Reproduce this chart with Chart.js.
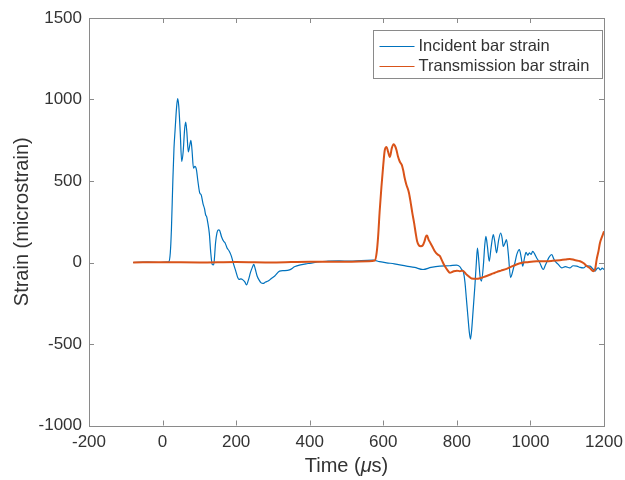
<!DOCTYPE html>
<html lang="en">
<head>
  <meta charset="UTF-8">
  <title>Strain</title>
  <style>
    html, body { margin: 0; padding: 0; background: #fff; }
    #wrap { width: 625px; height: 480px; }
  </style>
</head>
<body>
  <div id="wrap"><canvas id="myChart"></canvas></div>

  <script src="https://cdn.jsdelivr.net/npm/chart.js"></script>
  <script>
    // values (time in microseconds, strain in microstrain)
    const incidentT = [-80, -40, -10, 10, 17, 21, 24, 28, 31, 34, 38, 41, 44, 48, 52, 56, 60, 63, 66, 70,
      74, 77, 80, 84, 88, 92, 96, 101, 105, 110, 114, 117, 120, 123, 127, 131, 135, 138, 140, 144,
      148, 152, 155, 160, 166, 170, 175, 181, 187, 193, 199, 204, 208, 213, 219, 224, 228, 233, 239, 244,
      248, 252, 257, 263, 268, 273, 280, 287, 295, 305, 318, 330, 345, 360, 375, 390, 400, 427, 450, 480,
      510, 540, 572, 590, 609, 630, 663, 685, 708, 730, 754, 780, 799, 808, 813, 818, 822, 826, 830, 834,
      837, 840, 844, 849, 853, 856, 860, 863, 867, 872, 876, 879, 883, 888, 893, 899, 903, 908, 913, 919,
      923, 926, 931, 935, 940, 946, 950, 953, 958, 963, 970, 975, 979, 984, 988, 993, 997, 1002, 1006, 1012,
      1017, 1025, 1035, 1040, 1044, 1050, 1058, 1062, 1067, 1075, 1085, 1095, 1107, 1116, 1126, 1135, 1144, 1153, 1162, 1170,
      1176, 1180, 1185, 1190, 1195, 1200];
    const incidentV = [0, 2, 0, 2, 5, 60, 200, 506, 700, 811, 950, 1005, 960, 800, 620, 680, 820, 862, 800, 679,
      720, 750, 690, 579, 590, 570, 500, 427, 415, 360, 330, 293, 280, 243, 180, 60, -12, -15, 0, 120,
      183, 200, 197, 160, 130, 120, 91, 70, 39, -10, -53, -90, -104, -100, -108, -120, -138, -110, -61, -30,
      -12, -40, -83, -110, -125, -128, -120, -114, -100, -83, -53, -50, -45, -25, -15, -8, -5, 5, 8, 10,
      8, 12, 14, 5, -2, -8, -22, -30, -43, -30, -22, -20, -16, -25, -43, -60, -120, -225, -330, -430,
      -470, -420, -300, -144, 0, 89, 0, -83, -114, -20, 110, 160, 100, 8, 90, 171, 130, 59, 130, 181,
      150, 99, 120, 140, 50, -93, -70, -43, 0, 50, 79, 30, -22, 30, 63, 45, 59, 50, 69, 50,
      28, 0, -43, -20, 0, 30, 49, 30, 8, -10, -33, -25, -33, -20, -22, -30, -33, -20, -22, -40,
      -53, -40, -33, -45, -35, -43];

    const transT = [-80, 0, 100, 200, 300, 400, 500, 560, 577, 582, 586, 590, 595, 600, 604, 609, 613, 618, 623, 628,
      632, 636, 640, 645, 650, 654, 658, 663, 667, 670, 675, 679, 684, 688, 692, 697, 702, 707, 712, 716,
      719, 723, 728, 734, 740, 747, 754, 760, 767, 774, 781, 790, 800, 808, 816, 826, 831, 840, 854, 865,
      872, 881, 899, 908, 920, 935, 948, 962, 975, 990, 1017, 1044, 1060, 1080, 1095, 1107, 1120, 1135, 1145, 1153,
      1162, 1171, 1176, 1180, 1185, 1189, 1195, 1200];
    const transV = [0, 2, 0, 3, 0, 5, 5, 8, 12, 60, 160, 310, 465, 600, 689, 709, 680, 648, 700, 726,
      715, 689, 650, 618, 600, 567, 520, 476, 450, 425, 360, 303, 240, 181, 130, 104, 100, 104, 130, 160,
      165, 140, 120, 95, 69, 50, 39, 10, -22, -45, -63, -55, -50, -53, -50, -73, -83, -98, -100, -95,
      -90, -83, -67, -59, -50, -39, -25, -12, -3, 2, 8, 8, 10, 14, 18, 22, 15, 8, -5, -22,
      -35, -53, -40, 18, 70, 120, 160, 191];

    const seriesLabels = ['Incident bar strain', 'Transmission bar strain'];
    const xTicks = { min: -200, max: 1200, step: 200 };
    const yTicks = { min: -1000, max: 1500, step: 500 };

    const FONT = "'Liberation Sans', Arial, sans-serif";
    const TEXT = '#333333';
    const AXIS = '#8a8a8a';

    const toPts = (xs, ys) => xs.map((x, i) => ({ x, y: ys[i] }));

    // MATLAB-like box with inward ticks, legend and x title
    const boxPlugin = {
      id: 'box',
      afterDraw(chart) {
        const { ctx, chartArea: a, scales: { x, y } } = chart;
        const L = 5;
        ctx.save();
        ctx.strokeStyle = AXIS;
        ctx.lineWidth = 1;
        ctx.strokeRect(Math.round(a.left) + 0.5, Math.round(a.top) + 0.5,
          Math.round(a.right - a.left), Math.round(a.bottom - a.top));
        ctx.beginPath();
        x.ticks.forEach(t => {
          const px = Math.round(x.getPixelForValue(t.value)) + 0.5;
          ctx.moveTo(px, a.bottom); ctx.lineTo(px, a.bottom - L);
          ctx.moveTo(px, a.top); ctx.lineTo(px, a.top + L);
        });
        y.ticks.forEach(t => {
          const py = Math.round(y.getPixelForValue(t.value)) + 0.5;
          ctx.moveTo(a.left, py); ctx.lineTo(a.left + L, py);
          ctx.moveTo(a.right, py); ctx.lineTo(a.right - L, py);
        });
        ctx.stroke();

        // legend
        ctx.font = '16.5px ' + FONT;
        const tw = Math.max(...chart.data.datasets.map(d => ctx.measureText(d.label).width));
        const bw = Math.round(tw + 58), bh = 48;
        const bx = Math.round(a.right - 2 - bw) + 0.5, by = Math.round(a.top + 12) + 0.5;
        ctx.fillStyle = '#fff';
        ctx.fillRect(bx, by, bw, bh);
        ctx.strokeStyle = AXIS;
        ctx.strokeRect(bx, by, bw, bh);
        chart.data.datasets.forEach((d, i) => {
          const ly = by + 16 + i * 20;
          ctx.strokeStyle = d.borderColor;
          ctx.lineWidth = 1;
          ctx.beginPath();
          ctx.moveTo(bx + 6, ly); ctx.lineTo(bx + 41, ly);
          ctx.stroke();
          ctx.fillStyle = TEXT;
          ctx.textBaseline = 'middle';
          ctx.textAlign = 'left';
          ctx.fillText(d.label, bx + 45, ly);
        });

        // x title with italic mu
        const parts = [['Time (', 'normal'], ['\u03bc', 'italic'], ['s)', 'normal']];
        const widths = parts.map(p => { ctx.font = p[1] + ' 20px ' + FONT; return ctx.measureText(p[0]).width; });
        let cx = (a.left + a.right) / 2 - widths.reduce((s, w) => s + w, 0) / 2;
        ctx.fillStyle = TEXT;
        ctx.textBaseline = 'middle';
        parts.forEach((p, i) => {
          ctx.font = p[1] + ' 20px ' + FONT;
          ctx.fillText(p[0], cx, 466);
          cx += widths[i];
        });
        ctx.restore();
      }
    };

    const plain = v => String(v);

    const ctx = document.getElementById('myChart');
    const chart = new Chart(ctx, {
      type: 'scatter',
      data: {
        datasets: [{
          label: seriesLabels[0],
          data: toPts(incidentT, incidentV),
          showLine: true,
          borderColor: '#0072BD',
          borderWidth: 1.2,
          pointRadius: 0,
          cubicInterpolationMode: 'monotone',
          order: 1
        }, {
          label: seriesLabels[1],
          data: toPts(transT, transV),
          showLine: true,
          borderColor: '#D95319',
          borderWidth: 2,
          pointRadius: 0,
          cubicInterpolationMode: 'monotone',
          order: 0
        }]
      },
      options: {
        responsive: true,
        maintainAspectRatio: false,
        animation: false,
        layout: { padding: { top: 18, right: 21, left: 0, bottom: 0 } },
        plugins: { legend: { display: false }, tooltip: { enabled: false } },
        scales: {
          x: {
            type: 'linear',
            min: xTicks.min, max: xTicks.max,
            ticks: { stepSize: xTicks.step, padding: 7, color: TEXT, font: { family: FONT, size: 17 }, maxRotation: 0, callback: plain },
            grid: { display: false, drawTicks: false },
            border: { display: false },
            afterFit: s => { s.height = 54.5; s.paddingLeft = 0; s.paddingRight = 0; }
          },
          y: {
            min: yTicks.min, max: yTicks.max,
            ticks: { stepSize: yTicks.step, padding: 7, color: TEXT, font: { family: FONT, size: 17 }, callback: plain },
            grid: { display: false, drawTicks: false },
            border: { display: false },
            title: { display: true, text: 'Strain (microstrain)', color: TEXT, font: { family: FONT, size: 20 }, padding: { top: 10, bottom: 0 } },
            afterFit: s => { s.width = 89; s.paddingTop = 0; s.paddingBottom = 0; }
          }
        }
      },
      plugins: [boxPlugin]
    });
  </script>
</body>
</html>
